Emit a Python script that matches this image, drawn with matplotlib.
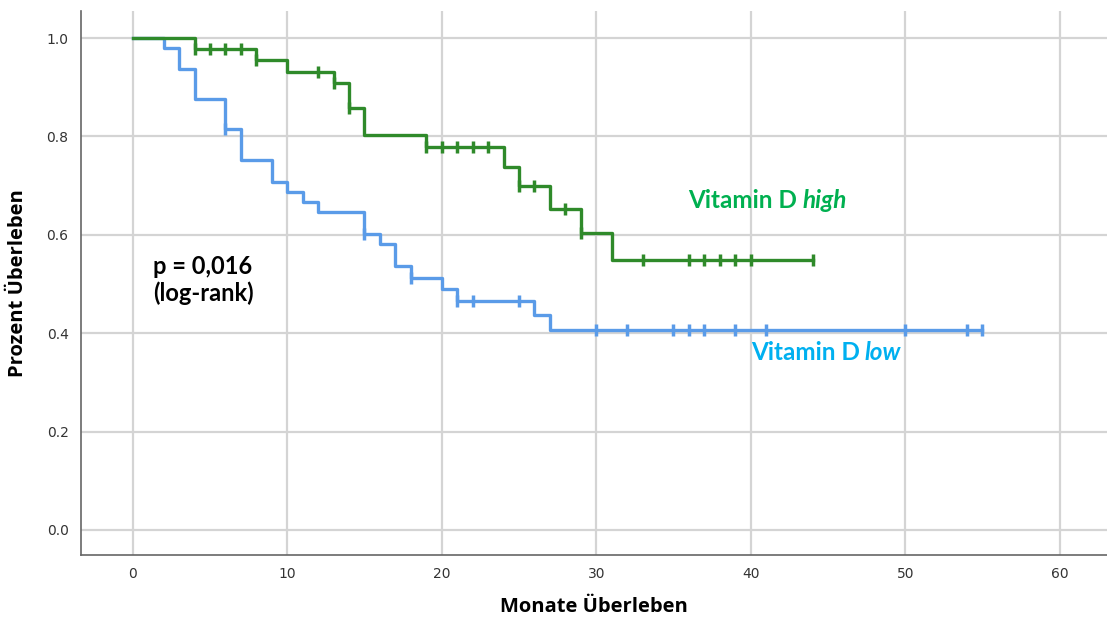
import numpy as np
import matplotlib
matplotlib.use("Agg")
from matplotlib import pyplot as plt

# Kaplan-Meier steps
high_t = [0, 4, 8, 10, 13, 14, 15, 19, 24, 25, 27, 29, 31]
high_s = [1.0, 0.978, 0.955, 0.931, 0.909, 0.858, 0.803, 0.778, 0.737, 0.699, 0.653, 0.603, 0.549]
high_cens = [4, 5, 6, 7, 8, 12, 13, 14, 19, 20, 21, 22, 23, 25, 26, 28, 29, 33, 36, 37, 38, 39, 40, 44]

low_t = [0, 2, 3, 4, 6, 7, 9, 10, 11, 12, 15, 16, 17, 18, 20, 21, 26, 27]
low_s = [1.0, 0.979, 0.938, 0.877, 0.816, 0.752, 0.708, 0.688, 0.667, 0.646, 0.602, 0.581,
         0.537, 0.513, 0.490, 0.466, 0.436, 0.406]
low_cens = [6, 15, 18, 21, 22, 25, 30, 32, 35, 36, 37, 39, 41, 50, 54, 55]

x_ticks = [0, 10, 20, 30, 40, 50, 60]
y_ticks = [0.0, 0.2, 0.4, 0.6, 0.8, 1.0]

green = "#2f8a2a"
blue = "#5a9be8"
font = ["Lato", "DejaVu Sans"]


def km_curve(ax, t, s, cens, color):
    t_end = max(max(cens), t[-1])
    ax.step(t + [t_end], s + [s[-1]], where="post", color=color, lw=2.4, zorder=3)
    idx = np.searchsorted(t, cens, side="right") - 1
    ax.plot(cens, np.array(s)[idx], ls="none", marker="|", ms=8, mew=2.5,
            color=color, zorder=4)


def label(ax, x, y, plain, ital, color):
    # bold upright part, then bold italic part right after it
    t1 = ax.text(x, y, plain, fontsize=17.5, fontweight="bold", color=color,
                 va="baseline", ha="left", family=font)
    r = ax.figure.canvas.get_renderer()
    bb = t1.get_window_extent(r)
    x2 = ax.transData.inverted().transform((bb.x1 + 5, bb.y0))[0]
    ax.text(x2, y, ital, fontsize=17.5, fontweight="bold", style="italic",
            color=color, va="baseline", ha="left", family=font)


fig = plt.figure(figsize=(11.07, 6.2), dpi=100)
ax = fig.add_axes([81 / 1107, 65 / 620, 1 - 81 / 1107, 544 / 620])

km_curve(ax, low_t, low_s, low_cens, blue)
km_curve(ax, high_t, high_s, high_cens, green)

ax.set_xlim(-3.35, 63.06)
ax.set_ylim(-0.051, 1.055)
ax.set_xticks(x_ticks)
ax.set_yticks(y_ticks)
ax.set_yticklabels([f"{v:.1f}" for v in y_ticks])
ax.grid(True, color="#d4d4d4", lw=1.6)
ax.set_axisbelow(True)
ax.tick_params(length=0, labelsize=10, colors="#333333", pad=9)
for lab in ax.get_xticklabels() + ax.get_yticklabels():
    lab.set_family(["Liberation Sans Narrow", "DejaVu Sans"])
for side in ["top", "right"]:
    ax.spines[side].set_visible(False)
for side in ["left", "bottom"]:
    ax.spines[side].set_color("#666666")
    ax.spines[side].set_linewidth(1.2)

ax.set_xlabel("Monate Überleben", fontsize=14.5, fontweight="bold", labelpad=11,
              family=["Open Sans", "DejaVu Sans"])
ax.set_ylabel("Prozent Überleben", fontsize=14.5, fontweight="bold", labelpad=13,
              family=["Open Sans", "DejaVu Sans"])

ax.text(1.3, 0.508, "p = 0,016\n(log-rank)", fontsize=17, fontweight="bold",
        va="center", ha="left", linespacing=1.2, family=font)
label(ax, 35.95, 0.655, "Vitamin D", "high", "#00b050")
label(ax, 40.0, 0.345, "Vitamin D", "low", "#00b0f0")

fig.savefig("out.png", dpi=100)
